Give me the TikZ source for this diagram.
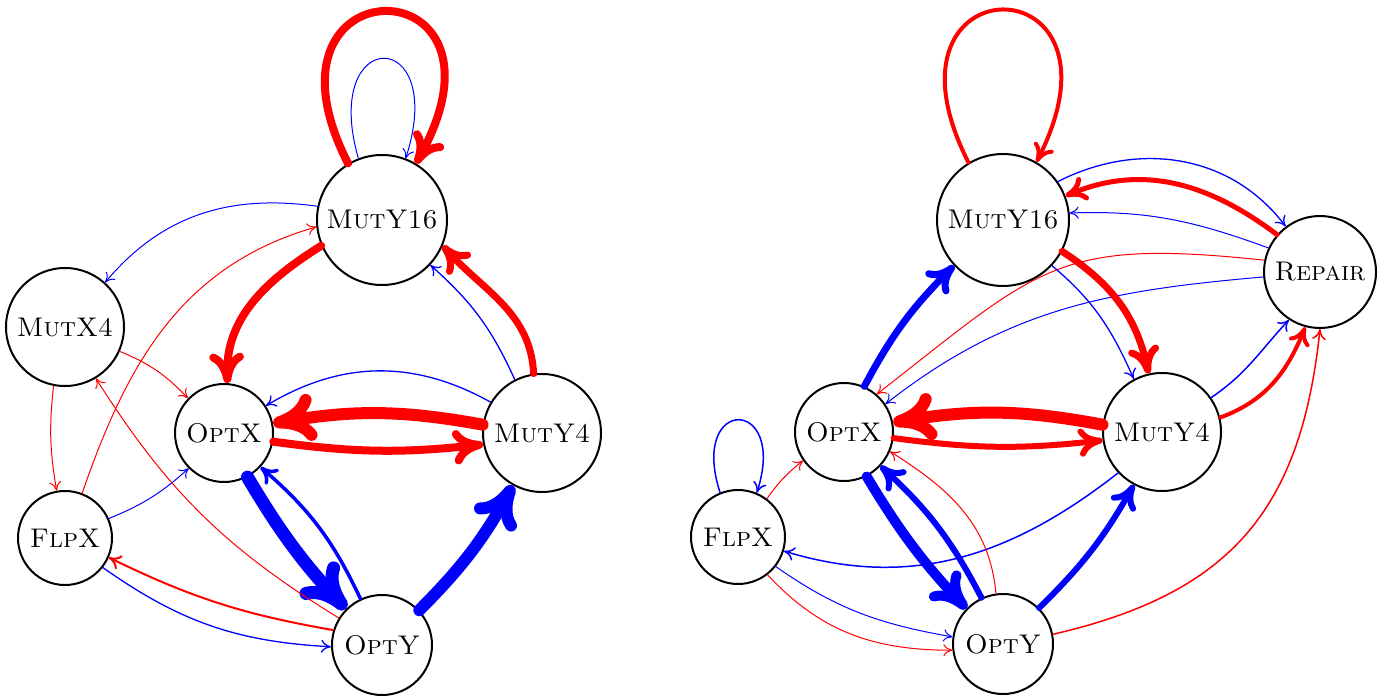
\documentclass[tikz,border=0pt]{standalone}
\usepackage{tikz}
\usetikzlibrary{arrows.meta}
\tikzset{
  st/.style={circle, draw, line width=2pt, inner sep=0pt, font=\fontsize{27}{30}\selectfont},
  ed/.style={-{Computer Modern Rightarrow[length=6pt 3.0, width=9pt 3.2]}, line cap=round},
  rd/.style={ed, draw=red},
  bl/.style={ed, draw=blue}
}
\begin{document}
\begin{tikzpicture}[x=1pt,y=1pt]
\useasboundingbox (0,0) rectangle (1392,697);
% left graph
\node[st, minimum size=130pt] (L16) at (382,477) {\textsc{MutY16}};
\node[st, minimum size=118pt] (LX4) at (65,370) {\textsc{MutX4}};
\node[st, minimum size=98pt]  (LOX) at (224,264) {\textsc{OptX}};
\node[st, minimum size=118pt] (LY4) at (542,264) {\textsc{MutY4}};
\node[st, minimum size=94pt]  (LFX) at (65,159) {\textsc{FlpX}};
\node[st, minimum size=100pt] (LOY) at (382,52) {\textsc{OptY}};
% right graph
\node[st, minimum size=132pt] (R16) at (1003,477) {\textsc{MutY16}};
\node[st, minimum size=112pt] (RRP) at (1320,425) {\textsc{Repair}};
\node[st, minimum size=98pt]  (ROX) at (844,265) {\textsc{OptX}};
\node[st, minimum size=118pt] (RY4) at (1162,265) {\textsc{MutY4}};
\node[st, minimum size=94pt]  (RFX) at (738,160) {\textsc{FlpX}};
\node[st, minimum size=100pt] (ROY) at (1003,53) {\textsc{OptY}};

% left edges
\draw[rd, line width=8] (L16.121) .. controls +(117:228) and +(61:230) .. (L16.59);
\draw[bl, line width=1] (L16.111) .. controls +(106:139) and +(72:140) .. (L16.69);
\draw[bl, line width=1] (L16.168) to[out=172,in=50] (LX4.48);
\draw[rd, line width=1] (LFX.69) to[out=71,in=196] (L16.186);
\draw[rd, line width=8] (L16.203) to[out=212,in=92] (LOX.86);
\draw[rd, line width=7] (LY4.98) to[out=93,in=-48] (L16.-23);
\draw[bl, line width=1.3] (LY4.117) to[bend right=12] (L16.-43);
\draw[bl, line width=1.3] (LY4.149) to[bend right=30] (LOX.33);
\draw[rd, line width=12] (LY4.172) to[bend right=10] (LOX.11);
\draw[rd, line width=8] (LOX.-10) to[bend right=7] (LY4.191);
\draw[rd, line width=1] (LX4.-24) to[bend left=12] (LOX.136);
\draw[rd, line width=1] (LX4.259) to[bend right=8] (LFX.100);
\draw[bl, line width=1] (LFX.24) to[bend right=10] (LOX.225);
\draw[bl, line width=13] (LOX.-62) to[bend right=6] (LOY.135);
\draw[bl, line width=3.5] (LOY.115) to[bend right=12] (LOX.-43);
\draw[bl, line width=12] (LOY.43) to[bend right=8] (LY4.241);
\draw[rd, line width=2] (LOY.163) to[bend left=8] (LFX.-24);
\draw[rd, line width=1] (LOY.148) to[bend left=13] (LX4.-59);
\draw[bl, line width=1.3] (LFX.-38) to[bend right=16] (LOY.182);

% right edges
\draw[rd, line width=4] (R16.121) .. controls +(117:228) and +(63:228) .. (R16.60);
\draw[bl, line width=1.3] (R16.35) to[out=27,in=127] (RRP.127);
\draw[rd, line width=5] (RRP.139) to[out=143,in=23] (R16.21);
\draw[bl, line width=1] (RRP.155) to[out=160,in=2] (R16.6);
\draw[rd, line width=1] (RRP.168) to[out=174,in=38,looseness=1.3] (ROX.49);
\draw[bl, line width=1] (RRP.185) to[out=185,in=38] (ROX.34);
\draw[rd, line width=7] (R16.-28) to[out=-33,in=102] (RY4.103);
\draw[bl, line width=1.3] (R16.-43) to[out=-40,in=114] (RY4.118);
\draw[bl, line width=7] (ROX.66) to[out=62,in=225] (R16.223);
\draw[rd, line width=12] (RY4.173) to[bend right=10] (ROX.11);
\draw[rd, line width=6] (ROX.-7) to[bend right=7] (RY4.188);
\draw[bl, line width=1.5] (RY4.35) to[out=34,in=227] (RRP.237);
\draw[rd, line width=4] (RY4.14) to[out=20,in=248] (RRP.255);
\draw[rd, line width=1.5] (ROY.11) to[out=13,in=264,looseness=1.15] (RRP.270);
\draw[bl, line width=1.5] (RY4.223) to[out=218,in=-17] (RFX.-17);
\draw[bl, line width=1.5] (RFX.112) .. controls +(108:102) and +(72:102) .. (RFX.67);
\draw[rd, line width=1] (RFX.53) to[bend left=8] (ROX.215);
\draw[bl, line width=1] (RFX.-38) to[out=-35,in=170] (ROY.172);
\draw[rd, line width=1] (RFX.-52) to[out=-47,in=180] (ROY.187);
\draw[bl, line width=10] (ROX.-63) to[bend right=6] (ROY.136);
\draw[bl, line width=6] (ROY.115) to[bend right=10] (ROX.-43);
\draw[rd, line width=1] (ROY.98) to[out=95,in=-32] (ROX.-23);
\draw[bl, line width=6] (ROY.45) to[bend right=8] (RY4.242);
\end{tikzpicture}
\end{document}
